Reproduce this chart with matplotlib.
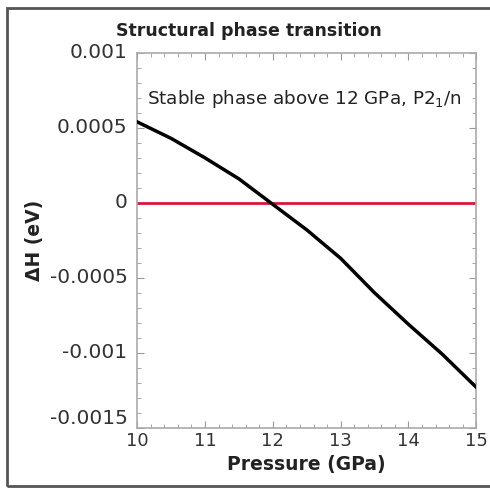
import matplotlib
matplotlib.use("Agg")
import matplotlib.pyplot as plt
from matplotlib.patches import Rectangle
from matplotlib.ticker import AutoMinorLocator

pressure = [10.0, 10.5, 11.0, 11.5, 12.0, 12.5, 13.0, 13.5, 14.0, 14.5, 15.0]
delta_h = [0.00054, 0.00043, 0.00030, 0.00016, -0.00001, -0.00018, -0.00037,
           -0.00060, -0.00081, -0.00101, -0.00123]
zero_x = [10, 15]
zero_y = [0, 0]
yticks = [0.001, 0.0005, 0, -0.0005, -0.001, -0.0015]
ytick_labels = ["0.001", "0.0005", "0", "-0.0005", "-0.001", "-0.0015"]
xticks = [10, 11, 12, 13, 14, 15]

plt.rcParams['font.family'] = ['DejaVu Sans']

fig = plt.figure(figsize=(4.9, 4.9), dpi=100)
ax = fig.add_axes([0.28, 0.127, 0.692, 0.765])

ax.plot(zero_x, zero_y, color='#d8173f', lw=2.0, zorder=2)
ax.plot(pressure, delta_h, color='black', lw=2.5, zorder=3)

ax.set_xlim(10, 15)
ax.set_ylim(-0.0015, 0.001)
ax.set_xticks(xticks)
ax.set_xticklabels([str(v) for v in xticks])
ax.set_yticks(yticks)
ax.set_yticklabels(ytick_labels)
ax.xaxis.set_minor_locator(AutoMinorLocator(5))
ax.yaxis.set_minor_locator(AutoMinorLocator(5))
ax.tick_params(which='both', direction='in', top=True, right=True,
               color='#999999', labelcolor='#333333')
ax.tick_params(axis='y', which='both', pad=7, labelsize=14.5)
ax.tick_params(axis='x', which='both', pad=3, labelsize=13)
ax.tick_params(which='major', length=5)
ax.tick_params(which='minor', length=3)
for lab in ax.get_yticklabels():
    lab.set_verticalalignment('center')
ax.get_yticklabels()[-1].set_verticalalignment('bottom')
for s in ax.spines.values():
    s.set_color('#aaaaaa')
    s.set_linewidth(1.2)

ax.set_xlabel("Pressure (GPa)", fontsize=13.5, fontweight='bold', color='#222222', labelpad=4)
ax.set_ylabel("ΔH (eV)", fontsize=13.5, fontweight='bold', color='#222222', labelpad=4)
ax.set_title("Structural phase transition", fontsize=12.5, fontweight='bold',
             color='#222222', pad=12, x=0.33)
ax.text(10.14, 0.00069, "Stable phase above 12 GPa, P2$_1$/n", fontsize=13.2,
        color='#222222', va='center', ha='left')

fig.patches.append(Rectangle((0.014, 0.008), 1.0, 0.976, transform=fig.transFigure,
                             fill=False, edgecolor='#555555', lw=2.0))

fig.savefig("out.png", dpi=100)
